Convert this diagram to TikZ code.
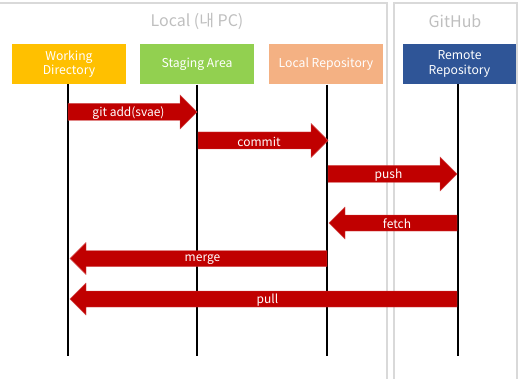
\documentclass[tikz,border=0pt]{standalone}
\usepackage{fontspec}
\setmainfont{Noto Sans CJK KR}
\definecolor{wdc}{HTML}{FFC000}
\definecolor{sac}{HTML}{92D050}
\definecolor{lrc}{HTML}{F4B183}
\definecolor{rrc}{HTML}{2F5597}
\definecolor{arc}{HTML}{C00000}
\definecolor{panelc}{HTML}{D9D9D9}
\definecolor{titlec}{HTML}{BFBFBF}
\begin{document}
\begin{tikzpicture}[x=1pt,y=-1pt,
  panel/.style={draw=panelc,line width=2pt},
  stage/.style={minimum width=114pt,minimum height=40pt,inner sep=0pt,text=white,font=\fontsize{12.2}{14.3}\selectfont,align=center},
  title/.style={text=titlec,font=\fontsize{16}{17}\selectfont},
  life/.style={line width=1.6pt,black},
  arr/.style={fill=arc,draw=arc!70!white,line width=0.4pt},
  lbl/.style={text=white,font=\fontsize{12}{13}\selectfont,inner sep=0pt}]
\useasboundingbox (0,0) rectangle (521,379);
% panels
\draw[panel] (-5,3) rectangle (387,390);
\draw[panel] (394,3) rectangle (517,390);
\node[title] (tlocal) at (197,21) {Local (내 PC)};
\node[title] (tgh) at (455,21) {GitHub};
% stage boxes
\node[stage,fill=wdc] (wd) at (69,64) {Working\\Directory};
\node[stage,fill=sac] (sa) at (197,64.5) {Staging Area};
\node[stage,fill=lrc] (lr) at (326,64.5) {Local Repository};
\node[stage,fill=rrc,minimum width=113pt] (rr) at (459.5,64) {Remote\\Repository};
% lifelines
\coordinate (wdb) at (68,356);
\coordinate (sab) at (197,356);
\coordinate (lrb) at (327,356);
\coordinate (rrb) at (458,356);
\draw[life] (wd.south -| wdb) -- (wdb);
\draw[life] (sa.south -| sab) -- (sab);
\draw[life] (lr.south -| lrb) -- (lrb);
\draw[life] (rr.south -| rrb) -- (rrb);
% arrows: {start x}{tip x}{centre y}{label}
\newcommand{\rarrow}[4]{%
  \fill[arr] (#1,#3-8.5) -- (#2-17,#3-8.5) -- (#2-17,#3-17) -- (#2,#3) -- (#2-17,#3+17) -- (#2-17,#3+8.5) -- (#1,#3+8.5) -- cycle;
  \node[lbl] at ({(#1+#2)/2-4},#3+1) {#4};}
\newcommand{\larrow}[4]{%
  \fill[arr] (#1,#3-8) -- (#2+16,#3-8) -- (#2+16,#3-16) -- (#2,#3) -- (#2+16,#3+16) -- (#2+16,#3+8) -- (#1,#3+8) -- cycle;
  \node[lbl] at ({(#1+#2)/2+4},#3+1) {#4};}
\rarrow{68}{197}{112}{git add(svae)}
\rarrow{198}{328}{140.5}{commit}
\rarrow{328}{457}{174}{push}
\larrow{457}{329}{223}{fetch}
\larrow{327}{70}{258.5}{merge}
\larrow{457}{70}{299}{pull}
\end{tikzpicture}
\end{document}
